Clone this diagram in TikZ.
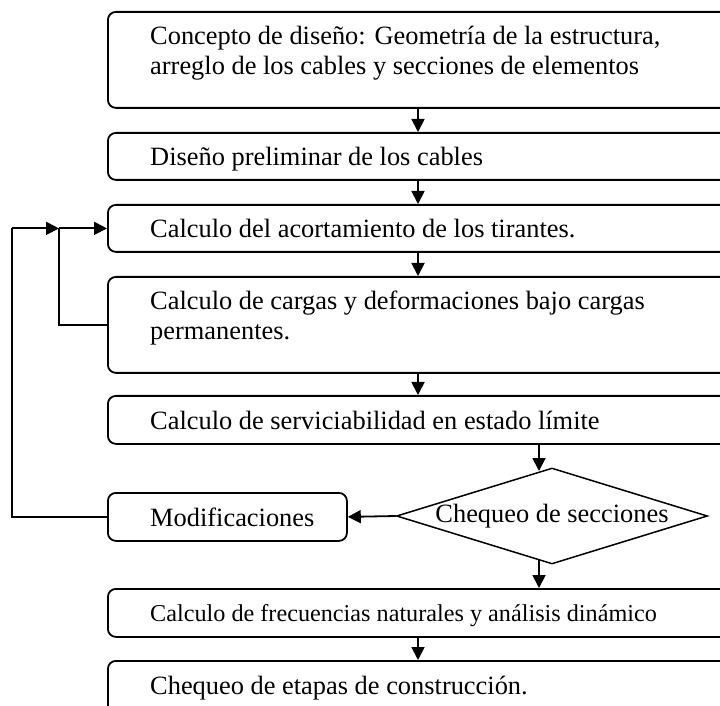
\documentclass[tikz,border=0pt]{standalone}
\usepackage{fontspec}
\setmainfont{Liberation Serif}
\usetikzlibrary{arrows.meta,shapes.geometric,calc}
\begin{document}
\begin{tikzpicture}[x=1pt,y=1pt,
  box/.style={draw, line width=1.8pt, rounded corners=8pt, inner sep=0pt, anchor=north west, minimum width=653pt},
  txt/.style={anchor=base west, inner sep=0pt, font=\fontsize{26.4}{30}\selectfont},
  smalltxt/.style={anchor=base west, inner sep=0pt, font=\fontsize{24.2}{28}\selectfont},
  conn/.style={line width=1.8pt, -{Triangle[length=13pt,width=13pt]}},
  plain/.style={line width=1.8pt}]
\useasboundingbox (0,0) rectangle (720,705);
\clip (0,0) rectangle (720,705);
% boxes
\node[box, minimum height=96pt] (b1) at (107,694) {};
\node[box, minimum height=47pt] (b2) at (107,573) {};
\node[box, minimum height=47pt] (b3) at (107,501) {};
\node[box, minimum height=96pt] (b4) at (107,429) {};
\node[box, minimum height=48pt] (b5) at (107,310) {};
\node[box, minimum height=48pt, minimum width=239pt] (m) at (107,213) {};
\node[draw, line width=1.5pt, shape=diamond, inner sep=0pt, minimum width=311pt, minimum height=96pt, aspect=3.24,
      font=\fontsize{26.4}{30}\selectfont] (d) at (552,189) {Chequeo de secciones};
\node[box, minimum height=48pt] (b6) at (107,117) {};
\node[box, minimum height=80pt] (b7) at (107,45) {};
% texts
\node[txt] (t1a) at (150,660) {Concepto de diseño: Geometría de la estructura,};
\node[txt] (t1b) at (150,630) {arreglo de los cables y secciones de elementos};
\node[txt] (t2) at (150,539) {Diseño preliminar de los cables};
\node[txt] (t3) at (150,467) {Calculo del acortamiento de los tirantes.};
\node[txt] (t4a) at (150,395) {Calculo de cargas y deformaciones bajo cargas};
\node[txt] (t4b) at (150,365) {permanentes.};
\node[txt] (t5) at (150,276) {Calculo de serviciabilidad en estado límite};
\node[txt] (tm) at (150,179) {Modificaciones};
\node[smalltxt] (t6) at (150,84) {Calculo de frecuencias naturales y análisis dinámico};
\node[txt] (t7) at (150,11) {Chequeo de etapas de construcción.};
% main flow
\draw[conn] (b1.south west -| 418,0) -- (b2.north west -| 418,0);
\draw[conn] (b2.south west -| 418,0) -- (b3.north west -| 418,0);
\draw[conn] (b3.south west -| 418,0) -- (b4.north west -| 418,0);
\draw[conn] (b4.south west -| 418,0) -- (b5.north west -| 418,0);
\draw[conn] (b5.south west -| 539,0) -- (539,234);
\draw[conn] (d.west) -- (m.east);
\draw[conn] (539,145) -- (b6.north west -| 539,0);
\draw[conn] (b6.south west -| 418,0) -- (b7.north west -| 418,0);
% feedback loops
\coordinate (j) at (59,0 |- b3.west);
\draw[plain] (b4.west) -| (j);
\draw[conn] (j) -- (b3.west);
\draw[plain] (m.west) -| (12,0 |- b3.west) coordinate (k);
\draw[conn] (k) -- (j);
\end{tikzpicture}
\end{document}
